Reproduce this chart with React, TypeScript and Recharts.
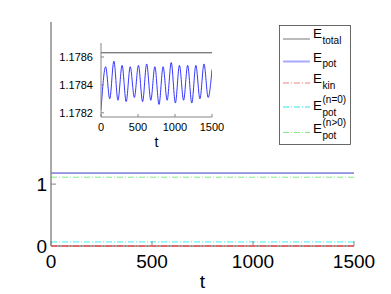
import React from 'react';
import { LineChart, Line, XAxis, YAxis } from 'recharts';

const FONT = '"Liberation Sans", Arial, Helvetica, sans-serif';

// E_pot oscillation, peaks and troughs
const tPot = [0, 63, 118, 174, 229, 285, 340, 395, 451, 506, 562, 617, 673, 728,
  784, 839, 894, 949, 1005, 1060, 1116, 1171, 1227, 1282, 1337, 1392, 1448, 1500];
const ePot = [1.17822, 1.17853, 1.17830, 1.17857, 1.17829, 1.17854, 1.17828, 1.17853,
  1.17831, 1.17854, 1.17828, 1.17855, 1.17829, 1.17853, 1.17826, 1.17853, 1.17829,
  1.17856, 1.17827, 1.17854, 1.17829, 1.17854, 1.17827, 1.17854, 1.17830, 1.17855,
  1.17831, 1.17851];

// the flat curves
const tFlat = [0, 1500];
const eTotal = [1.17863, 1.17863];
const eKin = [0.0003, 0.0003];
const ePotN0 = [0.066, 0.066];
const ePotNpos = [1.112, 1.112];

const xTicks = [0, 500, 1000, 1500];
const yTicksMain = [0, 1];
const yTicksInset = [1.1782, 1.1784, 1.1786];

const toRows = (ts: number[], vs: number[]) => ts.map((t, i) => ({ t, v: vs[i] }));

const DASHDOT = '6 2 1 2';

const series = [
  { key: 'total', data: toRows(tFlat, eTotal), color: '#000000', dash: undefined, w: 0.4, lg: '#777777', lw: 1 },
  { key: 'pot', data: toRows(tPot, ePot), color: '#6a6af0', dash: undefined, w: 1, lg: '#a8a8ff', lw: 2 },
  { key: 'kin', data: toRows(tFlat, eKin), color: '#e06a6a', dash: DASHDOT, w: 2, lg: '#f08080', lw: 1 },
  { key: 'n0', data: toRows(tFlat, ePotN0), color: '#40f0f0', dash: DASHDOT, w: 1, lg: '#70f0f0', lw: 1.4 },
  { key: 'npos', data: toRows(tFlat, ePotNpos), color: '#80f080', dash: DASHDOT, w: 1, lg: '#80f080', lw: 1.2 },
];

const legendLabels = [
  { sub: 'total', sup: '' },
  { sub: 'pot', sup: '' },
  { sub: 'kin', sup: '' },
  { sub: 'pot', sup: '(n=0)' },
  { sub: 'pot', sup: '(n>0)' },
];
// y of sample line and of the E baseline, per legend row
const legendLineY = [14, 36.5, 58, 82, 107.5];
const legendTextY = [13.3, 36.7, 58, 85, 108];

const AXIS = '#858585';
const axisLine = { stroke: AXIS, strokeWidth: 1.4 };
const MAIN_DOMAIN = [0, 3.62];

const LegendBox = () => (
  <svg width={72} height={120} style={{ position: 'absolute', left: 279, top: 25, display: 'block' }}>
    <rect x={0.5} y={0.5} width={71} height={119} fill="#fff" stroke="#444" strokeWidth={0.8} />
    {legendLabels.map((l, i) => (
      <g key={i}>
        <line x1={4} x2={31} y1={legendLineY[i]} y2={legendLineY[i]} stroke={series[i].lg}
          strokeWidth={series[i].lw} strokeDasharray={series[i].dash} />
        <text x={34} y={legendTextY[i]} fontSize={13.5} fontFamily={FONT} fill="#000">E</text>
        <text x={43.5} y={legendTextY[i] + 5.5} fontSize={10} fontFamily={FONT} fill="#000">{l.sub}</text>
        {l.sup && (
          <text x={43.5} y={legendTextY[i] - 7} fontSize={10} fontFamily={FONT} fill="#000">{l.sup}</text>
        )}
      </g>
    ))}
  </svg>
);

const mainTick = { fontSize: 19, fill: '#000', fontFamily: FONT };
const insetTick = { fontSize: 11, fill: '#000', fontFamily: FONT };

const lineProps = (s: typeof series[number]) => ({
  data: s.data, dataKey: 'v', type: 'monotone' as const, stroke: s.color, strokeWidth: s.w,
  strokeDasharray: s.dash, dot: false, activeDot: false, isAnimationActive: false,
});

export default function App() {
  return (
    <div style={{ position: 'absolute', left: 0, top: 0, width: 391, height: 294, background: '#fff' }}>
      <LineChart width={391} height={294} margin={{ top: 22, right: 37, bottom: 0, left: 21 }}>
        <XAxis type="number" dataKey="t" domain={[0, 1500]} ticks={xTicks} height={48}
          stroke={AXIS} axisLine={axisLine} tickSize={-5} tickMargin={14} tick={mainTick} allowDataOverflow
          label={{ value: 't', position: 'insideBottom', offset: 6, fontSize: 19, fill: '#000', fontFamily: FONT }} />
        <XAxis xAxisId="top" orientation="top" type="number" domain={[0, 1500]} ticks={xTicks}
          height={0} stroke={AXIS} axisLine={axisLine} tickSize={-5} tick={false} />
        <YAxis type="number" domain={MAIN_DOMAIN} ticks={yTicksMain} width={30} stroke={AXIS}
          axisLine={axisLine} tickSize={-5} tickMargin={9} tick={mainTick} allowDataOverflow />
        <YAxis yAxisId="right" orientation="right" type="number" domain={MAIN_DOMAIN} ticks={yTicksMain}
          width={0} stroke={AXIS} axisLine={axisLine} tickSize={-5} tick={false} />
        {series.filter((s) => s.key !== 'kin').map((s) => (
          <Line key={s.key} {...lineProps(s)} />
        ))}
      </LineChart>

      {/* E_kin sits on the x axis; drawn in an overlay so it lies above the axis line */}
      <div style={{ position: 'absolute', left: 0, top: 0, pointerEvents: 'none' }}>
        <LineChart width={391} height={294} margin={{ top: 22, right: 37, bottom: 48, left: 51 }}>
          <XAxis type="number" dataKey="t" domain={[0, 1500]} hide />
          <YAxis type="number" domain={MAIN_DOMAIN} hide />
          <Line {...lineProps(series[2])} />
        </LineChart>
      </div>

      <LegendBox />

      <div style={{ position: 'absolute', left: 50, top: 30 }}>
        <LineChart width={180} height={125} margin={{ top: 13, right: 18, bottom: 0, left: 6 }}>
          <XAxis type="number" dataKey="t" domain={[0, 1500]} ticks={xTicks} height={38}
            stroke={AXIS} tickSize={-3} tickMargin={9} tick={insetTick} allowDataOverflow
            label={{ value: 't', position: 'insideBottom', offset: 8, fontSize: 14, fill: '#000', fontFamily: FONT }} />
          <XAxis xAxisId="top" orientation="top" type="number" domain={[0, 1500]} ticks={xTicks}
            height={0} stroke={AXIS} tickSize={-3} tick={false} />
          <YAxis type="number" domain={[1.17817, 1.1787]} ticks={yTicksInset} width={45} stroke={AXIS}
            tickSize={-3} tickMargin={11} tick={insetTick} allowDataOverflow
            tickFormatter={(v: number) => v.toFixed(4)} />
          <YAxis yAxisId="right" orientation="right" type="number" domain={[1.17817, 1.1787]}
            ticks={yTicksInset} width={0} stroke={AXIS} tickSize={-3} tick={false} />
          <Line data={series[0].data} dataKey="v" type="monotone" stroke="#222" strokeWidth={0.8}
            dot={false} activeDot={false} isAnimationActive={false} />
          <Line data={series[1].data} dataKey="v" type="monotone" stroke="#1f1fff" strokeWidth={0.9}
            dot={false} activeDot={false} isAnimationActive={false} />
        </LineChart>
      </div>
    </div>
  );
}
